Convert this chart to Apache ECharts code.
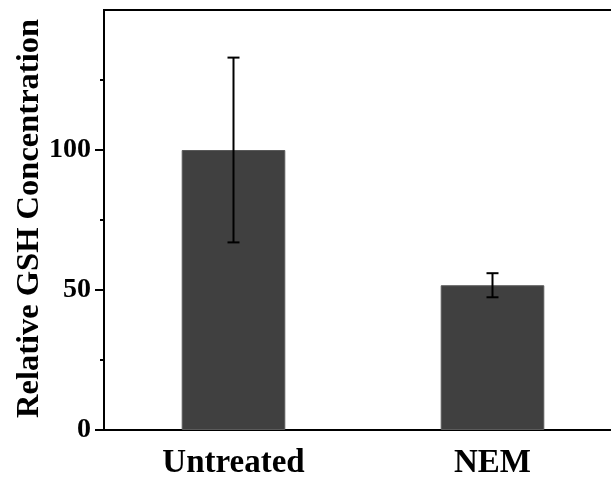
<!DOCTYPE html>
<html><head><meta charset="utf-8">
<script src="https://cdn.jsdelivr.net/npm/echarts@6/dist/echarts.min.js"></script>
<style>html,body{margin:0;padding:0;background:#fff}#c{width:611px;height:483px}</style>
</head><body><div id="c"></div>
<script>
var categories = ['Untreated', 'NEM'];
var means = [100, 51.7];
var errors = [33, 4.3];
var yMax = 150;        // top of the frame
var yTickMax = 100;    // last labelled tick
var yInterval = 50;
var yLabel = 'Relative GSH Concentration';

var chart = echarts.init(document.getElementById('c'), null, {renderer: 'canvas'});
var font = '"Liberation Serif", "Times New Roman", serif';
var gTop = 10, gBottom = 53, H = 483;
var plotH = H - gTop - gBottom;
var tickGridTop = gTop + plotH * (yMax - yTickMax) / yMax;
chart.setOption({
  animation: false,
  backgroundColor: '#fff',
  grid: [
    {left: 104, top: gTop, bottom: gBottom, width: 518, containLabel: false, outerBoundsMode: 'none',
     show: true, borderColor: '#000', borderWidth: 2, backgroundColor: 'transparent'},
    {left: 104, top: tickGridTop, bottom: gBottom, width: 518, containLabel: false, outerBoundsMode: 'none', show: false}
  ],
  xAxis: [{
    type: 'category', data: categories, gridIndex: 0,
    axisLine: {lineStyle: {color: '#000', width: 2}},
    axisTick: {alignWithLabel: true, length: 7, lineStyle: {color: '#000', width: 2}},
    axisLabel: {color: '#000', fontFamily: font, fontWeight: 'bold', fontSize: 33, margin: 17}
  }, {
    type: 'category', data: categories, gridIndex: 1, show: false
  }],
  yAxis: [{
    type: 'value', min: 0, max: yMax, interval: yInterval, gridIndex: 0,
    name: yLabel, nameLocation: 'middle', nameGap: 58,
    nameTextStyle: {color: '#000', fontFamily: font, fontWeight: 'bold', fontSize: 32.5, padding: [0, 0, 0, 3]},
    axisLine: {show: true, lineStyle: {color: '#000', width: 2}},
    axisTick: {show: false},
    minorTick: {show: true, splitNumber: 2, length: 4, lineStyle: {color: '#000', width: 2}},
    axisLabel: {show: false},
    splitLine: {show: false}
  }, {
    type: 'value', min: 0, max: yTickMax, interval: yInterval, gridIndex: 1,
    axisLine: {show: true, lineStyle: {color: '#000', width: 2}},
    axisTick: {show: true, inside: false, length: 9, lineStyle: {color: '#000', width: 2}},
    axisLabel: {color: '#000', fontFamily: font, fontWeight: 'bold', fontSize: 28, margin: 13},
    splitLine: {show: false}
  }],
  series: [{
    type: 'bar', data: means, barWidth: '40%',
    itemStyle: {color: '#404040', borderColor: '#5a5a5a', borderWidth: 1}
  }, {
    type: 'custom',
    data: categories.map(function (c, i) { return [i, means[i] - errors[i], means[i] + errors[i]]; }),
    renderItem: function (params, api) {
      var lo = api.coord([api.value(0), api.value(1)]);
      var hi = api.coord([api.value(0), api.value(2)]);
      var w = 6;
      var st = {stroke: '#000', lineWidth: 2};
      return {type: 'group', children: [
        {type: 'line', shape: {x1: hi[0], y1: hi[1], x2: lo[0], y2: lo[1]}, style: st},
        {type: 'line', shape: {x1: hi[0] - w, y1: hi[1], x2: hi[0] + w, y2: hi[1]}, style: st},
        {type: 'line', shape: {x1: lo[0] - w, y1: lo[1], x2: lo[0] + w, y2: lo[1]}, style: st}
      ]};
    },
    z: 5
  }]
});
</script></body></html>
